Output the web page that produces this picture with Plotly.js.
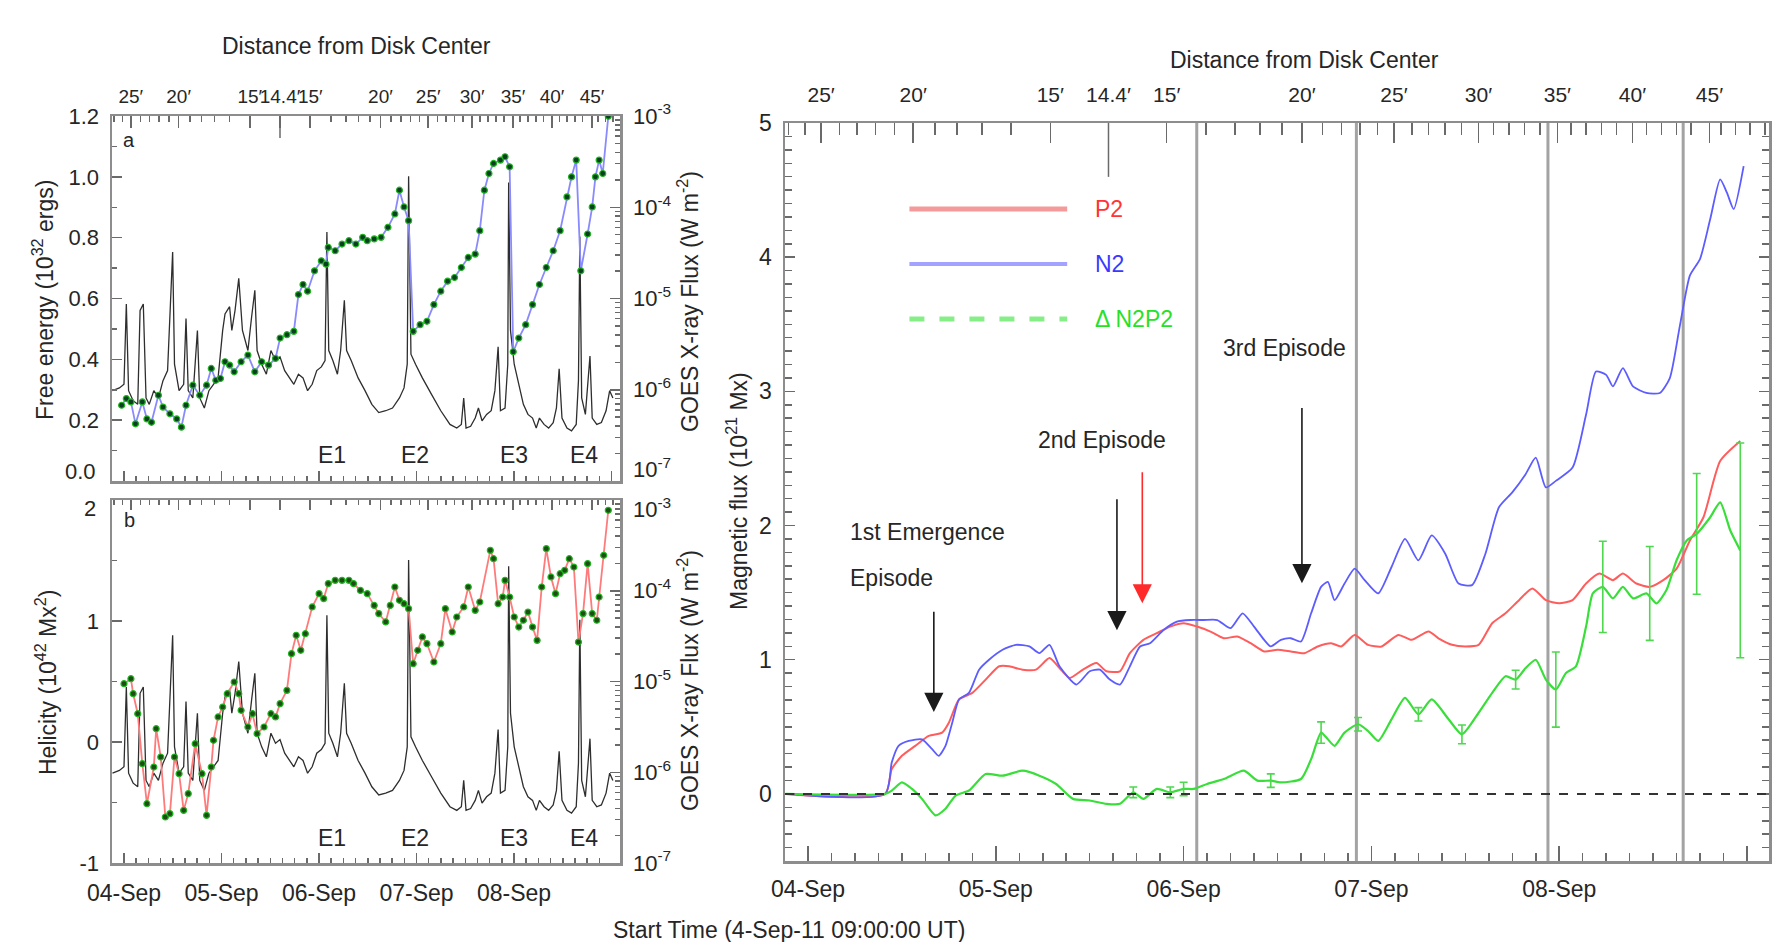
<!DOCTYPE html>
<html><head><meta charset="utf-8">
<script src="https://cdn.plot.ly/plotly-3.0.1.min.js"></script>
<style>html,body{margin:0;padding:0;background:#fff}#chart{width:1776px;height:942px}</style>
</head><body><div id="chart"></div>
<script>
// ---------------- data (x in days after 04-Sep 00:00) ----------------
const dayTickVals = [0, 1, 2, 3, 4, 5];
const dayTickText = ['04-Sep', '05-Sep', '06-Sep', '07-Sep', '08-Sep', '09-Sep'];
const distTickDays = [0.07, 0.56, 1.29, 1.60, 1.91, 2.63, 3.12, 3.57, 3.99, 4.39, 4.80];
const distTickText = ['25′', '20′', '15′', '14.4′', '15′', '20′', '25′', '30′', '35′', '40′', '45′'];
const flareDays = [2.07, 2.92, 3.94, 4.66];
const flareNames = ['E1', 'E2', 'E3', 'E4'];
const feTicks = [0, 0.2, 0.4, 0.6, 0.8, 1.0, 1.2];
const helTicks = [-1, 0, 1, 2];

// GOES X-ray flux (log10 W m^-2)
const goesDays = [-0.118,-0.047,0,0.024,0.047,0.094,0.141,0.165,0.198,0.226,
0.259,0.306,0.353,0.40,0.447,0.48,0.499,0.518,0.565,0.612,
0.636,0.659,0.706,0.753,0.777,0.824,0.871,0.918,0.965,1.012,
1.036,1.083,1.106,1.139,1.177,1.215,1.271,1.309,1.342,1.365,
1.412,1.46,1.507,1.554,1.60,1.648,1.695,1.742,1.789,1.836,
1.883,1.93,1.977,2.024,2.062,2.081,2.10,2.142,2.189,2.222,
2.26,2.283,2.33,2.401,2.472,2.542,2.613,2.684,2.754,2.825,
2.872,2.905,2.919,2.943,2.99,3.06,3.154,3.249,3.343,3.413,
3.46,3.484,3.508,3.555,3.602,3.635,3.672,3.719,3.766,3.804,
3.837,3.861,3.908,3.936,3.945,3.964,4.002,4.049,4.096,4.143,
4.19,4.228,4.261,4.308,4.355,4.402,4.435,4.463,4.492,4.543,
4.59,4.638,4.661,4.675,4.694,4.732,4.779,4.802,4.849,4.896,
4.944,4.981,5.014];
const goesLog = [-6.01,-5.98,-5.94,-5.06,-6.01,-6.12,-6.16,-5.13,-5.06,-6.09,
-6.16,-6.01,-6.09,-5.90,-5.79,-5.06,-4.49,-5.72,-6.01,-5.94,
-5.22,-6.01,-6.09,-5.35,-6.09,-6.20,-6.01,-5.94,-5.87,-5.35,
-5.17,-5.09,-5.35,-5.13,-4.78,-5.35,-5.57,-5.20,-4.91,-5.57,
-5.72,-5.83,-5.57,-5.68,-5.64,-5.79,-5.87,-5.94,-5.83,-5.87,
-6.01,-5.94,-5.79,-5.75,-5.68,-4.27,-5.57,-5.68,-5.83,-5.57,
-5.02,-5.57,-5.68,-5.87,-6.01,-6.16,-6.25,-6.23,-6.20,-6.09,
-5.98,-5.72,-3.66,-5.61,-5.72,-5.87,-6.05,-6.23,-6.38,-6.42,
-6.38,-6.09,-6.42,-6.40,-6.31,-6.20,-6.34,-6.27,-6.23,-6.01,
-5.53,-6.23,-6.20,-5.72,-3.73,-5.35,-5.72,-5.94,-6.16,-6.27,
-6.31,-6.42,-6.31,-6.38,-6.42,-6.36,-6.20,-5.77,-6.31,-6.42,
-6.45,-6.38,-5.90,-4.32,-6.09,-6.27,-5.63,-6.31,-6.38,-6.36,
-6.23,-6.01,-6.09];

// Free energy (10^32 ergs)
const feDays = [-0.024,0.024,0.071,0.118,0.188,0.235,0.282,0.353,0.40,0.471,0.541,0.589,0.636,0.706,0.777,0.847,0.895,0.942,0.989,1.036,1.083,1.13,1.201,1.271,1.342,1.412,1.483,1.554,1.601,1.671,1.742,1.789,1.836,1.883,1.954,2.024,2.072,2.095,2.166,2.236,2.307,2.378,2.448,2.495,2.566,2.637,2.707,2.778,2.825,2.872,2.919,2.966,3.037,3.107,3.178,3.249,3.319,3.39,3.46,3.531,3.602,3.649,3.696,3.743,3.79,3.861,3.908,3.955,3.992,4.049,4.12,4.19,4.261,4.331,4.402,4.473,4.543,4.59,4.638,4.685,4.755,4.802,4.835,4.873,4.91,4.967];
const feVals = [0.249,0.271,0.26,0.188,0.26,0.204,0.193,0.282,0.243,0.221,0.204,0.177,0.249,0.315,0.282,0.315,0.37,0.331,0.337,0.392,0.381,0.359,0.392,0.414,0.359,0.392,0.381,0.403,0.47,0.481,0.492,0.613,0.646,0.624,0.691,0.724,0.713,0.768,0.757,0.779,0.79,0.779,0.801,0.79,0.796,0.801,0.834,0.878,0.956,0.901,0.856,0.492,0.514,0.525,0.58,0.624,0.657,0.669,0.702,0.735,0.746,0.823,0.956,1.011,1.044,1.055,1.066,1.033,0.425,0.47,0.514,0.58,0.646,0.702,0.757,0.823,0.934,1.0,1.055,0.691,0.812,0.901,1.0,1.055,1.011,1.199];

// Helicity (10^42 Mx^2)
const helDays = [0,0.071,0.094,0.141,0.188,0.235,0.306,0.33,0.377,0.424,0.471,0.518,0.565,0.612,0.659,0.73,0.80,0.847,0.895,0.918,0.965,1.012,1.059,1.13,1.177,1.201,1.271,1.318,1.365,1.436,1.507,1.554,1.601,1.671,1.718,1.766,1.813,1.86,1.93,2.001,2.048,2.095,2.166,2.236,2.307,2.354,2.425,2.495,2.566,2.613,2.684,2.731,2.778,2.825,2.872,2.919,2.966,3.013,3.06,3.107,3.178,3.249,3.296,3.366,3.413,3.484,3.531,3.602,3.649,3.757,3.79,3.837,3.884,3.908,3.955,4.002,4.049,4.096,4.143,4.19,4.237,4.284,4.331,4.379,4.426,4.473,4.52,4.567,4.614,4.661,4.708,4.755,4.802,4.849,4.873,4.92,4.967];
const helVals = [0.482,0.523,0.399,0.234,-0.179,-0.51,-0.207,0.11,-0.124,-0.62,-0.592,-0.124,-0.262,-0.565,-0.427,-0.014,-0.262,-0.606,-0.207,0.014,0.207,0.289,0.399,0.496,0.399,0.262,0.124,0.234,0.069,0.124,0.234,0.207,0.317,0.427,0.73,0.882,0.758,0.895,1.116,1.226,1.185,1.309,1.336,1.336,1.336,1.309,1.253,1.226,1.129,1.061,0.992,1.129,1.281,1.171,1.143,1.102,0.647,0.758,0.868,0.813,0.661,0.813,1.102,0.909,1.033,1.116,1.281,1.088,1.157,1.584,1.515,1.143,1.198,1.336,1.198,1.033,0.95,1.006,1.074,0.95,0.84,1.281,1.598,1.364,1.226,1.391,1.419,1.515,1.446,0.826,1.061,1.474,1.061,1.006,1.198,1.543,1.915];

// Magnetic flux (10^21 Mx)
const p2Days = [-0.12,0.411,0.446,0.5,0.571,0.643,0.714,0.75,0.804,0.875,0.946,1.018,1.071,1.143,1.214,1.286,1.339,1.393,1.464,1.536,1.589,1.661,1.714,1.786,1.857,1.929,2.0,2.071,2.143,2.214,2.286,2.357,2.429,2.5,2.571,2.643,2.714,2.786,2.839,2.911,2.982,3.054,3.143,3.214,3.304,3.357,3.429,3.5,3.571,3.643,3.714,3.786,3.857,3.929,4.0,4.071,4.143,4.214,4.286,4.339,4.411,4.482,4.554,4.625,4.696,4.768,4.857,4.964];
const p2Vals = [0,0,0.185,0.284,0.358,0.432,0.457,0.531,0.704,0.753,0.852,0.951,0.951,0.926,0.926,1.012,0.938,0.864,0.926,0.975,0.914,0.914,1.049,1.148,1.198,1.247,1.272,1.247,1.21,1.16,1.173,1.123,1.062,1.074,1.062,1.049,1.099,1.123,1.099,1.185,1.111,1.099,1.185,1.148,1.21,1.16,1.111,1.099,1.111,1.272,1.346,1.444,1.531,1.444,1.42,1.444,1.568,1.642,1.593,1.642,1.568,1.543,1.593,1.679,1.889,2.062,2.481,2.63];
const n2Days = [-0.12,0.411,0.446,0.482,0.536,0.607,0.661,0.696,0.732,0.768,0.804,0.857,0.911,0.964,1.036,1.107,1.179,1.232,1.286,1.339,1.429,1.5,1.554,1.607,1.661,1.714,1.768,1.821,1.893,1.964,2.036,2.107,2.179,2.25,2.314,2.375,2.429,2.464,2.518,2.571,2.625,2.679,2.732,2.768,2.804,2.857,2.911,2.964,3.036,3.107,3.179,3.25,3.321,3.393,3.464,3.536,3.607,3.679,3.75,3.821,3.875,3.929,3.982,4.071,4.143,4.196,4.25,4.286,4.339,4.393,4.464,4.536,4.589,4.643,4.696,4.75,4.804,4.857,4.893,4.929,4.982];
const n2Vals = [0,0,0.235,0.358,0.395,0.407,0.333,0.284,0.358,0.531,0.704,0.753,0.926,1.0,1.074,1.111,1.099,1.049,1.111,0.951,0.815,0.914,0.926,0.852,0.815,0.951,1.099,1.123,1.222,1.284,1.296,1.296,1.296,1.235,1.346,1.247,1.148,1.099,1.148,1.16,1.136,1.346,1.543,1.58,1.444,1.568,1.679,1.593,1.494,1.691,1.901,1.741,1.926,1.79,1.568,1.556,1.79,2.136,2.247,2.383,2.506,2.284,2.333,2.432,2.827,3.148,3.123,3.037,3.173,3.037,2.988,2.988,3.099,3.494,3.864,3.988,4.284,4.58,4.481,4.358,4.679];
const dDays = [-0.12,0.411,0.446,0.5,0.554,0.607,0.679,0.732,0.786,0.857,0.946,1.036,1.143,1.232,1.321,1.411,1.5,1.589,1.661,1.732,1.786,1.857,1.929,2.0,2.054,2.125,2.214,2.321,2.393,2.464,2.518,2.625,2.679,2.732,2.768,2.804,2.857,2.929,2.982,3.036,3.107,3.179,3.25,3.321,3.411,3.482,3.571,3.643,3.714,3.768,3.821,3.875,3.929,3.982,4.036,4.089,4.143,4.179,4.232,4.286,4.339,4.393,4.464,4.518,4.571,4.625,4.679,4.732,4.804,4.857,4.911,4.964];
const dVals = [0,0,0.025,0.086,0.037,-0.037,-0.16,-0.111,-0.012,0.025,0.148,0.136,0.173,0.136,0.074,-0.037,-0.049,-0.074,-0.074,0.012,-0.037,0.037,0.012,0.037,0.037,0.074,0.111,0.173,0.099,0.099,0.086,0.111,0.259,0.457,0.407,0.358,0.457,0.519,0.469,0.395,0.556,0.716,0.593,0.704,0.556,0.444,0.605,0.753,0.877,0.852,0.938,1.0,0.852,0.778,0.901,0.951,1.247,1.494,1.543,1.457,1.543,1.457,1.494,1.42,1.519,1.741,1.889,1.938,2.062,2.173,1.963,1.815];
const errDays = [1.732, 1.929, 2.0, 2.464, 2.732, 2.929, 3.25, 3.482, 3.768, 3.982, 4.232, 4.482, 4.732, 4.964];
const errVals = [0.012, 0.012, 0.037, 0.099, 0.457, 0.519, 0.593, 0.444, 0.852, 0.778, 1.543, 1.494, 1.938, 1.815];
const errSizes = [0.04, 0.04, 0.05, 0.05, 0.08, 0.05, 0.05, 0.07, 0.07, 0.28, 0.34, 0.35, 0.45, 0.8];

// ---------------- layout helpers ----------------
const W = 1776, H = 942;
const px = v => v / W, py = v => 1 - v / H;
const FONT = 'Liberation Sans, Arial, sans-serif';
const TXT = '#262626';
const domLX = [px(112), px(620)];
const domAY = [py(481), py(116)];
const domBY = [py(863), py(500)];
const domRX = [px(785), px(1769)];
const domRY = [py(861), py(123)];
const rangeL = [-0.123, 5.087];
const rangeR = [-0.1225, 5.117];

// minor tick helpers (axis geometry)
const minorDays = [];
for (let i = -1; i <= 42; i++) { const t = i * 0.125; if (i % 8 !== 0) minorDays.push(t); }
// distance-from-disk-centre ticks: heliocentric angle of a region rotating past 14.4 deg
const DMIN = 14.4, TMIN = 1.60, RATE = 13.4;
const minorDist = [];
for (let d = 15; d <= 52; d++) {
  if (d % 5 === 0) continue;
  const s = Math.sqrt(d * d - DMIN * DMIN) / RATE;
  minorDist.push(TMIN - s, TMIN + s);
}
const logMinor = [];
for (let k = -7; k < -3; k++) for (let m = 2; m <= 9; m++) logMinor.push(m * Math.pow(10, k));
const goesFlux = goesLog.map(v => Math.pow(10, v));
const goesTickVals = [1e-7, 1e-6, 1e-5, 1e-4, 1e-3];
const goesTickText = ['10<sup>-7</sup>', '10<sup>-6</sup>', '10<sup>-5</sup>', '10<sup>-4</sup>', '10<sup>-3</sup>'];
// labels at the shared panel edge are nudged inward (drawn as annotations below)
const goesTextA = goesTickText.map((t, i) => i === 0 ? '' : t);
const goesTextB = goesTickText.map((t, i) => i === goesTickText.length - 1 ? '' : t);
const feText = feTicks.map(v => v === 0 ? '' : v.toFixed(1));
const helText = helTicks.map(v => v === 2 ? '' : String(v));

const LINE = '#8d8d8d', TICK = '#6a6a6a';
const base = {
  showline: true, linecolor: LINE, linewidth: 2.5, showgrid: false, zeroline: false,
  ticks: 'inside', tickcolor: TICK, tickwidth: 1.5, fixedrange: true, tickangle: 0,
  tickfont: {family: FONT, size: 22, color: TXT}
};
const mk = (o) => Object.assign({}, base, o);

const layout = {
  width: W, height: H, margin: {l: 0, r: 0, t: 0, b: 0},
  paper_bgcolor: '#fff', plot_bgcolor: 'rgba(0,0,0,0)', showlegend: false,
  font: {family: FONT, color: TXT},
  // ---- panel a ----
  xaxis: mk({domain: domLX, range: rangeL, anchor: 'y', tickmode: 'array', tickvals: dayTickVals,
    showticklabels: false, ticklen: 10,
    minor: {tickmode: 'array', tickvals: minorDays, ticks: 'inside', ticklen: 5, tickcolor: TICK}}),
  xaxis2: mk({overlaying: 'x', side: 'top', anchor: 'y', range: rangeL, tickmode: 'array',
    tickvals: distTickDays, ticktext: distTickText, ticklen: 12, ticklabelstandoff: 3,
    tickfont: {family: FONT, size: 19, color: TXT},
    minor: {tickmode: 'array', tickvals: minorDist, ticks: 'inside', ticklen: 6, tickcolor: TICK}}),
  yaxis: mk({domain: domAY, anchor: 'x', side: 'right', type: 'log', range: [-7, -3],
    tickmode: 'array', tickvals: goesTickVals, ticktext: goesTextA, ticklen: 10, ticklabelstandoff: 6,
    minor: {tickmode: 'array', tickvals: logMinor, ticks: 'inside', ticklen: 5, tickcolor: TICK}}),
  yaxis2: mk({overlaying: 'y', anchor: 'x', side: 'left', range: [0, 1.2], tickmode: 'array',
    tickvals: feTicks, ticktext: feText, ticklen: 10, ticklabelstandoff: 6,
    minor: {tickmode: 'array', tickvals: [0.1, 0.3, 0.5, 0.7, 0.9, 1.1], ticks: 'inside', ticklen: 5, tickcolor: TICK}}),
  // ---- panel b ----
  xaxis3: mk({domain: domLX, range: rangeL, anchor: 'y3', tickmode: 'array', tickvals: dayTickVals.slice(0, 5),
    ticktext: dayTickText.slice(0, 5), ticklen: 10, ticklabelstandoff: 8,
    tickfont: {family: FONT, size: 23, color: TXT},
    minor: {tickmode: 'array', tickvals: minorDays, ticks: 'inside', ticklen: 5, tickcolor: TICK}}),
  xaxis4: mk({overlaying: 'x3', side: 'top', anchor: 'y3', range: rangeL, tickmode: 'array',
    tickvals: distTickDays, showticklabels: false, ticklen: 10,
    minor: {tickmode: 'array', tickvals: minorDist, ticks: 'inside', ticklen: 5, tickcolor: TICK}}),
  yaxis3: mk({domain: domBY, anchor: 'x3', side: 'right', type: 'log', range: [-7, -3],
    tickmode: 'array', tickvals: goesTickVals, ticktext: goesTextB, ticklen: 10, ticklabelstandoff: 6,
    minor: {tickmode: 'array', tickvals: logMinor, ticks: 'inside', ticklen: 5, tickcolor: TICK}}),
  yaxis4: mk({overlaying: 'y3', anchor: 'x3', side: 'left', range: [-1, 2], tickmode: 'array',
    tickvals: helTicks, ticktext: helText, ticklen: 10, ticklabelstandoff: 6,
    minor: {tickmode: 'array', tickvals: [-0.5, 0.5, 1.5], ticks: 'inside', ticklen: 5, tickcolor: TICK}}),
  // ---- right panel ----
  xaxis5: mk({domain: domRX, range: rangeR, anchor: 'y5', tickmode: 'array', tickvals: dayTickVals,
    ticktext: dayTickText, ticklen: 15, ticklabelstandoff: 6,
    tickfont: {family: FONT, size: 23, color: TXT},
    minor: {tickmode: 'array', tickvals: minorDays, ticks: 'inside', ticklen: 8, tickcolor: TICK}}),
  xaxis6: mk({overlaying: 'x5', side: 'top', anchor: 'y5', range: rangeR, tickmode: 'array',
    tickvals: distTickDays, ticktext: distTickText, ticklen: 20, ticklabelstandoff: 10,
    tickfont: {family: FONT, size: 21, color: TXT},
    minor: {tickmode: 'array', tickvals: minorDist, ticks: 'inside', ticklen: 12, tickcolor: TICK}}),
  yaxis5: mk({domain: domRY, anchor: 'x5', range: [-0.5, 5], tickmode: 'linear', tick0: 0, dtick: 1,
    mirror: 'ticks', ticklen: 10, ticklabelstandoff: 6,
    tickfont: {family: FONT, size: 23, color: TXT},
    minor: {dtick: 0.1, ticks: 'inside', ticklen: 7, tickcolor: TICK}}),
  shapes: [],
  annotations: []
};

// flare boundary lines (right panel)
flareDays.forEach(d => layout.shapes.push({type: 'line', layer: 'below', xref: 'x5', yref: 'y5 domain',
  x0: d, x1: d, y0: 0, y1: 1, line: {color: '#a3a3a3', width: 3}}));
// zero line
layout.shapes.push({type: 'line', xref: 'x5 domain', yref: 'y5', x0: 0, x1: 1, y0: 0, y1: 0,
  line: {color: '#333', width: 2, dash: 'dash'}});
// long 14.4 ticks
layout.shapes.push({type: 'line', xref: 'x5', yref: 'y5 domain', x0: distTickDays[3], x1: distTickDays[3],
  y0: 0.927, y1: 1, line: {color: TICK, width: 1.5}});
layout.shapes.push({type: 'line', xref: 'x', yref: 'y domain', x0: distTickDays[3], x1: distTickDays[3],
  y0: 0.94, y1: 1, line: {color: TICK, width: 1.5}});

// legend (right panel)
const legendItems = [
  {name: 'P2', y: 4.36, line: {color: '#f59a9a', width: 5}, text: '#ff3535'},
  {name: 'N2', y: 3.95, line: {color: '#a3a3ff', width: 4}, text: '#3a3aff'},
  {name: 'Δ N2P2', y: 3.54, line: {color: '#86ee86', width: 5, dash: 'dash'}, text: '#28e028'}
];
legendItems.forEach(it => {
  layout.shapes.push({type: 'line', xref: 'x5', yref: 'y5', x0: 0.54, x1: 1.38, y0: it.y, y1: it.y, line: it.line});
  layout.annotations.push({xref: 'x5', yref: 'y5', x: 1.52, y: it.y, xanchor: 'left', yanchor: 'middle',
    text: it.name, showarrow: false, font: {family: FONT, size: 23, color: it.text}});
});

// arrows (right panel)
const arrows = [
  {x: 0.67, tip: 0.61, tail: 1.42, color: '#1a1a1a'},
  {x: 1.645, tip: 1.22, tail: 2.26, color: '#1a1a1a'},
  {x: 1.78, tip: 1.42, tail: 2.46, color: '#ff2a2a'},
  {x: 2.63, tip: 1.57, tail: 2.94, color: '#1a1a1a'}
];
arrows.forEach(a => layout.annotations.push({xref: 'x5', yref: 'y5', axref: 'x5', ayref: 'y5',
  x: a.x, y: a.tip, ax: a.x, ay: a.tail, text: ' ', showarrow: true, arrowhead: 2, arrowsize: 2.4,
  arrowwidth: 1.6, arrowcolor: a.color}));

const txt = (o) => Object.assign({showarrow: false, xanchor: 'center', yanchor: 'middle',
  font: {family: FONT, size: 23, color: TXT}}, o);
const tickTxt = (o) => txt(Object.assign({xref: 'paper', yref: 'paper', font: {family: FONT, size: 22, color: TXT}}, o));
layout.annotations.push(
  txt({xref: 'x5', yref: 'y5', x: 0.215, y: 1.95, xanchor: 'left', text: '1st Emergence'}),
  txt({xref: 'x5', yref: 'y5', x: 0.215, y: 1.61, xanchor: 'left', text: 'Episode'}),
  txt({xref: 'x5', yref: 'y5', x: 1.565, y: 2.64, text: '2nd Episode'}),
  txt({xref: 'x5', yref: 'y5', x: 2.535, y: 3.32, text: '3rd Episode'}),
  txt({xref: 'paper', yref: 'paper', x: px(356), y: py(46), text: 'Distance from Disk Center'}),
  txt({xref: 'paper', yref: 'paper', x: px(1304), y: py(60), text: 'Distance from Disk Center'}),
  txt({xref: 'paper', yref: 'paper', x: px(43), y: py(300), textangle: -90, text: 'Free energy (10<sup>32</sup> ergs)'}),
  txt({xref: 'paper', yref: 'paper', x: px(688), y: py(302), textangle: -90, text: 'GOES X-ray Flux (W m<sup>-2</sup>)'}),
  txt({xref: 'paper', yref: 'paper', x: px(46), y: py(683), textangle: -90, text: 'Helicity (10<sup>42</sup> Mx<sup>2</sup>)'}),
  txt({xref: 'paper', yref: 'paper', x: px(688), y: py(681), textangle: -90, text: 'GOES X-ray Flux (W m<sup>-2</sup>)'}),
  txt({xref: 'paper', yref: 'paper', x: px(737), y: py(491), textangle: -90, text: 'Magnetic flux (10<sup>21</sup> Mx)'}),
  txt({xref: 'paper', yref: 'paper', x: px(789), y: py(930), text: 'Start Time (4-Sep-11 09:00:00 UT)'}),
  txt({xref: 'paper', yref: 'paper', x: px(129), y: py(140), text: 'a', font: {family: FONT, size: 20, color: TXT}}),
  txt({xref: 'paper', yref: 'paper', x: px(129), y: py(520), text: 'b', font: {family: FONT, size: 20, color: TXT}}),
  // edge tick labels, nudged inside their own panel as in the original
  tickTxt({x: px(98), y: py(471), xanchor: 'right', text: feTicks[0].toFixed(1)}),
  tickTxt({x: px(631), y: py(468), xanchor: 'left', text: goesTickText[0]}),
  tickTxt({x: px(98), y: py(508), xanchor: 'right', text: String(helTicks[helTicks.length - 1])}),
  tickTxt({x: px(631), y: py(508), xanchor: 'left', text: goesTickText[goesTickText.length - 1]})
);
flareDays.forEach((d, i) => {
  layout.annotations.push(txt({xref: 'x', yref: 'paper', x: d, xshift: 6, y: py(455), text: flareNames[i]}));
  layout.annotations.push(txt({xref: 'x3', yref: 'paper', x: d, xshift: 6, y: py(838), text: flareNames[i]}));
});

// ---------------- traces ----------------
const dummy = (xa, ya, yv) => ({x: [0], y: [yv], xaxis: xa, yaxis: ya, mode: 'markers',
  marker: {opacity: 0}, hoverinfo: 'skip'});
const greenDot = (c) => ({size: 6, color: c, line: {color: '#1fb51f', width: 1.2}});
const traces = [
  {x: goesDays, y: goesFlux, xaxis: 'x', yaxis: 'y', mode: 'lines', line: {color: '#2e2e2e', width: 1.3}},
  {x: feDays, y: feVals, xaxis: 'x', yaxis: 'y2', mode: 'lines+markers',
    line: {color: '#8a8aff', width: 1.8}, marker: greenDot('#0c3f22')},
  {x: goesDays, y: goesFlux, xaxis: 'x3', yaxis: 'y3', mode: 'lines', line: {color: '#2e2e2e', width: 1.3}},
  {x: helDays, y: helVals, xaxis: 'x3', yaxis: 'y4', mode: 'lines+markers',
    line: {color: '#ff7a7a', width: 1.8}, marker: greenDot('#1d4d14')},
  {x: p2Days, y: p2Vals, xaxis: 'x5', yaxis: 'y5', mode: 'lines', line: {color: '#ff5c5c', width: 2, shape: 'spline', smoothing: 0.6}},
  {x: n2Days, y: n2Vals, xaxis: 'x5', yaxis: 'y5', mode: 'lines', line: {color: '#5c5cff', width: 1.8, shape: 'spline', smoothing: 0.6}},
  {x: dDays, y: dVals, xaxis: 'x5', yaxis: 'y5', mode: 'lines', line: {color: '#3ade3a', width: 2.2, shape: 'spline', smoothing: 0.6}},
  {x: errDays, y: errVals, xaxis: 'x5', yaxis: 'y5', mode: 'markers', marker: {size: 1, color: 'rgba(0,0,0,0)'},
    error_y: {type: 'data', array: errSizes, color: '#4ed84e', thickness: 1.6, width: 4}},
  dummy('x2', 'y', 1e-5), dummy('x4', 'y3', 1e-5), dummy('x6', 'y5', 1)
];

Plotly.newPlot('chart', traces, layout, {staticPlot: true, displayModeBar: false});
</script>
</body></html>
